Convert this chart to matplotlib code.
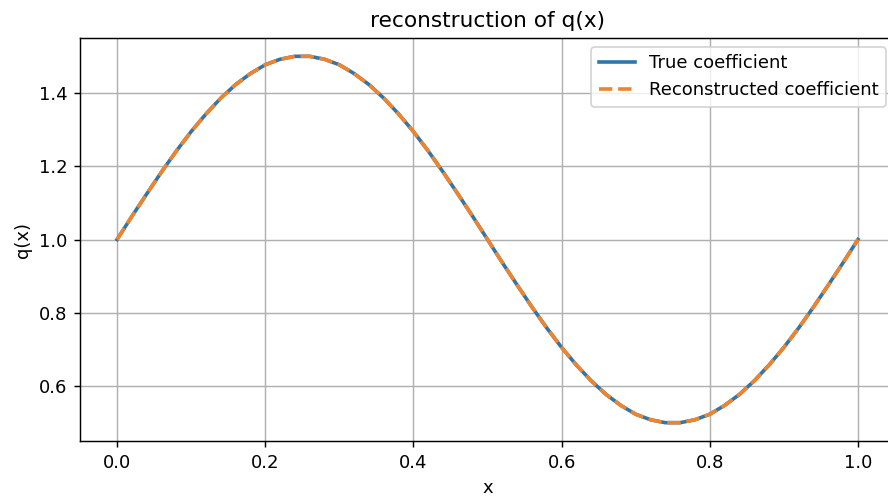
import numpy as np
import matplotlib
matplotlib.use('Agg')
import matplotlib.pyplot as plt

x = np.linspace(0, 1, 51)
q_true = [1.000, 1.063, 1.124, 1.184, 1.241, 1.294, 1.342, 1.385, 1.422, 1.452,
          1.476, 1.491, 1.499, 1.499, 1.491, 1.476, 1.452, 1.422, 1.385, 1.342,
          1.294, 1.241, 1.184, 1.124, 1.063, 1.000, 0.937, 0.876, 0.816, 0.759,
          0.706, 0.658, 0.615, 0.578, 0.548, 0.524, 0.509, 0.501, 0.501, 0.509,
          0.524, 0.548, 0.578, 0.615, 0.658, 0.706, 0.759, 0.816, 0.876, 0.937,
          1.000]
q_rec = list(q_true)

dpi = 130
fig = plt.figure(figsize=(888/dpi, 498/dpi), dpi=dpi)
ax = fig.add_axes([80/888, 1 - 441/498, 815/888, 403/498])

ax.plot(x, q_true, color='#2f76aa', lw=2, label='True coefficient')
ax.plot(x, q_rec, color='#f0842c', lw=2, ls='--', label='Reconstructed coefficient')

ax.set_title('reconstruction of q(x)', fontsize=12)
ax.set_xlabel('x')
ax.set_ylabel('q(x)')
ax.grid(True)
ax.legend(loc='upper right')

fig.savefig('out.png', dpi=dpi)
